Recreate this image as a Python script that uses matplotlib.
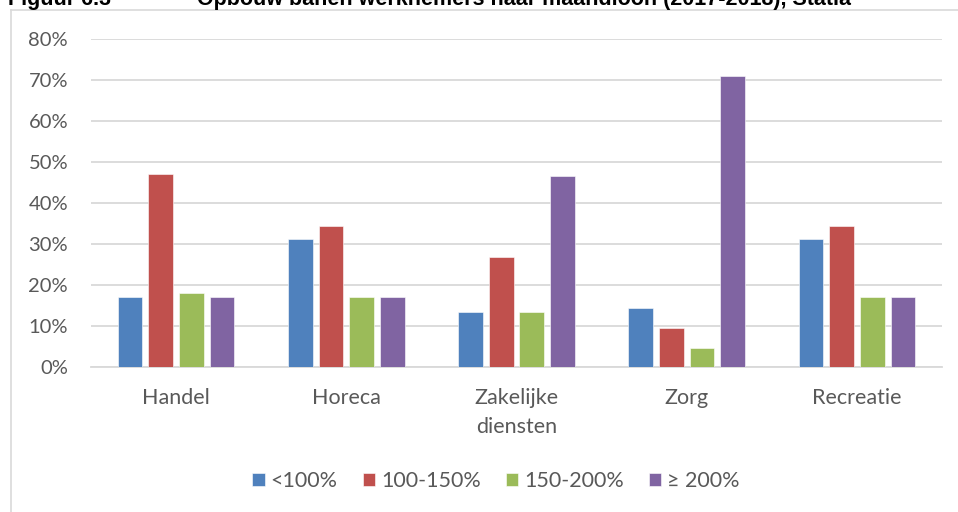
import matplotlib.pyplot as plt
import numpy as np
from matplotlib.lines import Line2D

W, H = 958, 512

categories = ["Handel", "Horeca", "Zakelijke\ndiensten", "Zorg", "Recreatie"]
series_labels = ["<100%", "100-150%", "150-200%", "\u2265 200%"]
lt100 = [17.1, 31.2, 13.3, 14.3, 31.2]
b100_150 = [47.1, 34.4, 26.9, 9.6, 34.4]
b150_200 = [18.0, 17.1, 13.3, 4.6, 17.1]
ge200 = [17.1, 17.1, 46.6, 70.9, 17.1]
colors = ["#4F81BD", "#C0504D", "#9BBB59", "#8064A2"]

fig_no = "Figuur 6.3"
title = "Opbouw banen werknemers naar maandloon (2017-2018), Statia"

plt.rcParams['font.family'] = ['Lato', 'DejaVu Sans']

fig = plt.figure(figsize=(W / 100, H / 100), dpi=100)

# outer chart frame (left and top only visible)
fig.add_artist(Line2D([11 / W, 11 / W], [0, 1 - 10 / H], color="#D9D9D9", lw=1.2))
fig.add_artist(Line2D([11 / W, 1], [1 - 10 / H, 1 - 10 / H], color="#D9D9D9", lw=1.2))

# title sits partly above the top edge, as in the source
fig.text(8 / W, 1 - 5 / H, fig_no, fontsize=15.5, fontweight='bold', color='black',
         family='Liberation Sans', ha='left', va='baseline')
fig.text(197 / W, 1 - 5 / H, title, fontsize=15.5, fontweight='bold', color='black',
         family='Liberation Sans', ha='left', va='baseline')

ax = fig.add_axes([91 / W, (H - 367) / H, 851 / W, 328 / H])

x = np.arange(len(categories))
step = 0.18
bw = 0.145
for i, vals in enumerate([lt100, b100_150, b150_200, ge200]):
    ax.bar(x + (i - 1.5) * step, vals, bw, color=colors[i], label=series_labels[i],
           edgecolor='white', linewidth=0.4, zorder=3)

ax.set_xlim(-0.5, len(categories) - 0.5)
ax.set_ylim(0, 80)
ax.set_yticks(range(0, 81, 10))
ax.set_yticklabels([f"{v}%" for v in range(0, 81, 10)])
ax.set_xticks(x)
ax.set_xticklabels(categories, linespacing=1.6)
ax.grid(axis='y', color="#D9D9D9", lw=1.3, zorder=0)
for s in ['top', 'right', 'left']:
    ax.spines[s].set_visible(False)
ax.spines['bottom'].set_color("#D9D9D9")
ax.spines['bottom'].set_linewidth(1.3)
ax.tick_params(axis='y', length=0, pad=16.5, labelsize=14.5, labelcolor="#595959")
ax.tick_params(axis='x', length=0, pad=15, labelsize=15.5, labelcolor="#595959")

leg = fig.legend(loc='center', bbox_to_anchor=(496 / W, 1 - 481 / H), ncol=4,
                 frameon=False, fontsize=15.5, handlelength=0.58, handleheight=0.58,
                 handletextpad=0.28, columnspacing=1.16)
for t in leg.get_texts():
    t.set_color("#595959")

fig.savefig("out.png", dpi=100)
